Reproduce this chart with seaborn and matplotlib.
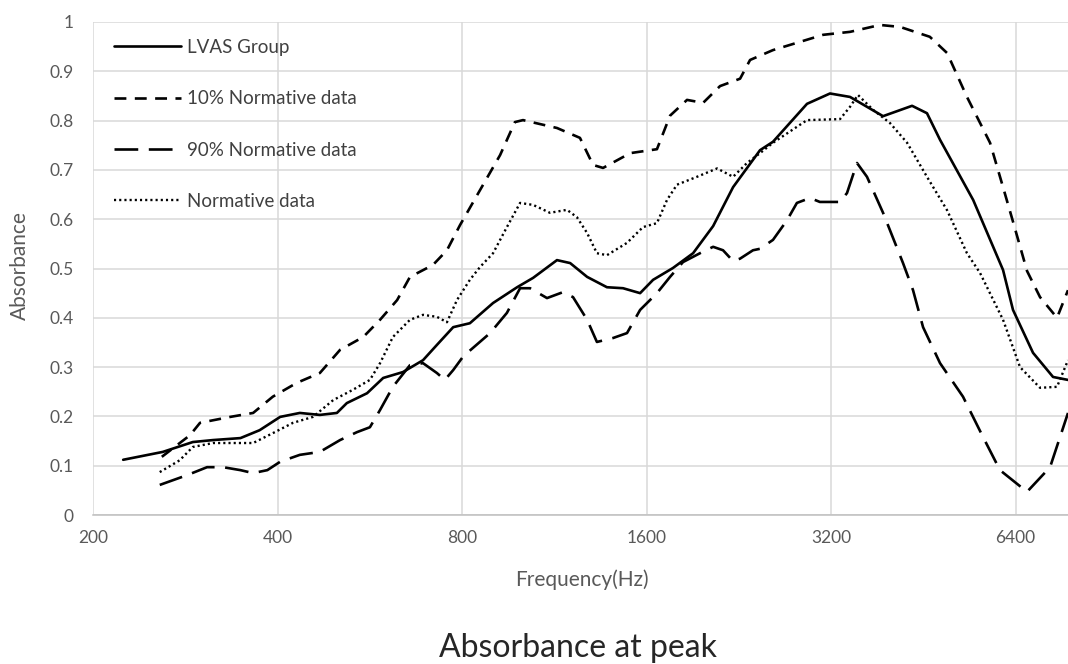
import matplotlib
matplotlib.use("Agg")
import matplotlib.pyplot as plt
import seaborn as sns
import numpy as np

# ---- data ----
lvas_freq = [224, 260, 291, 314, 348, 374, 404, 435, 469, 500, 519, 560, 595, 641, 691, 728,
             774, 824, 899, 984, 1045, 1143, 1201, 1280, 1379, 1465, 1562, 1640, 1767, 1906,
             2055, 2215, 2451, 2573, 2924, 3188, 3437, 3891, 4339, 4589, 4820, 5459, 6107,
             6340, 6835, 7369, 7795]
lvas_abs = [0.112, 0.128, 0.148, 0.152, 0.156, 0.172, 0.199, 0.207, 0.203, 0.207, 0.227, 0.247,
            0.278, 0.290, 0.314, 0.345, 0.381, 0.389, 0.430, 0.462, 0.481, 0.517, 0.511, 0.483,
            0.462, 0.460, 0.450, 0.477, 0.501, 0.531, 0.586, 0.665, 0.740, 0.757, 0.834, 0.855,
            0.848, 0.809, 0.830, 0.815, 0.761, 0.639, 0.497, 0.416, 0.329, 0.280, 0.274]

p10_freq = [259, 288, 299, 335, 365, 393, 430, 469, 506, 552, 588, 627, 658, 717, 756, 794,
            856, 923, 976, 1006, 1143, 1246, 1309, 1359, 1505, 1664, 1748, 1863, 1979, 2109,
            2274, 2361, 2573, 3106, 3437, 3847, 4149, 4638, 4950, 5333, 5816, 6107, 6340,
            6683, 7017, 7480, 7795]
p10_abs = [0.118, 0.162, 0.187, 0.199, 0.207, 0.240, 0.268, 0.288, 0.335, 0.361, 0.396, 0.436,
           0.483, 0.507, 0.537, 0.588, 0.659, 0.730, 0.797, 0.801, 0.785, 0.765, 0.710, 0.704,
           0.734, 0.742, 0.810, 0.842, 0.836, 0.870, 0.885, 0.923, 0.943, 0.974, 0.980, 0.994,
           0.990, 0.970, 0.937, 0.848, 0.755, 0.665, 0.595, 0.495, 0.442, 0.400, 0.456]

p90_freq = [257, 285, 307, 326, 348, 365, 385, 404, 435, 469, 506, 539, 566, 588, 617, 658,
            691, 728, 750, 774, 804, 889, 947, 995, 1033, 1101, 1169, 1214, 1280, 1328, 1411,
            1487, 1562, 1664, 1748, 1835, 1956, 2055, 2133, 2215, 2274, 2387, 2451, 2573,
            2713, 2815, 2957, 3069, 3310, 3398, 3528, 3663, 3891, 4194, 4355, 4522, 4820,
            5254, 5666, 6037, 6683, 7287, 7795]
p90_abs = [0.061, 0.081, 0.097, 0.097, 0.091, 0.085, 0.091, 0.108, 0.122, 0.128, 0.152, 0.168,
           0.178, 0.213, 0.260, 0.304, 0.308, 0.288, 0.274, 0.294, 0.322, 0.369, 0.410, 0.460,
           0.460, 0.440, 0.452, 0.442, 0.396, 0.351, 0.359, 0.369, 0.416, 0.450, 0.483, 0.513,
           0.531, 0.544, 0.537, 0.515, 0.520, 0.537, 0.540, 0.558, 0.598, 0.633, 0.643, 0.635,
           0.635, 0.653, 0.714, 0.686, 0.613, 0.511, 0.456, 0.381, 0.308, 0.240, 0.158, 0.091,
           0.047, 0.097, 0.207]

norm_freq = [257, 277, 291, 314, 348, 365, 393, 424, 457, 493, 531, 566, 588, 617, 658, 691,
             728, 756, 785, 824, 856, 899, 947, 995, 1045, 1113, 1187, 1232, 1280, 1328, 1379,
             1487, 1579, 1664, 1728, 1794, 1934, 2086, 2215, 2334, 2451, 2573, 2924, 3310,
             3437, 3541, 3747, 3994, 4259, 4589, 4950, 5333, 5601, 6107, 6509, 7017, 7480, 7795]
norm_abs = [0.087, 0.111, 0.138, 0.146, 0.146, 0.146, 0.166, 0.187, 0.199, 0.233, 0.254, 0.274,
            0.308, 0.361, 0.396, 0.406, 0.402, 0.391, 0.436, 0.477, 0.503, 0.531, 0.584, 0.633,
            0.629, 0.613, 0.619, 0.604, 0.572, 0.531, 0.527, 0.552, 0.584, 0.592, 0.639, 0.670,
            0.686, 0.703, 0.686, 0.714, 0.734, 0.755, 0.801, 0.803, 0.828, 0.852, 0.822, 0.795,
            0.755, 0.686, 0.618, 0.531, 0.491, 0.396, 0.300, 0.258, 0.260, 0.314]

x_ticks = [200, 400, 800, 1600, 3200, 6400]
y_ticks = [0, 0.1, 0.2, 0.3, 0.4, 0.5, 0.6, 0.7, 0.8, 0.9, 1]
y_tick_labels = ["0", "0.1", "0.2", "0.3", "0.4", "0.5", "0.6", "0.7", "0.8", "0.9", "1"]

# ---- style ----
sns.set_theme(style="whitegrid")
plt.rcParams['font.family'] = ['Lato', 'DejaVu Sans']

W, H = 1068, 664
fig = plt.figure(figsize=(W / 100, H / 100), dpi=100)
ax = fig.add_axes([93 / W, 1 - 515 / H, 1 - 93 / W, (515 - 22) / H])

lw = 1.9
sns.lineplot(x=lvas_freq, y=lvas_abs, ax=ax, color="black", linewidth=lw,
             label="LVAS Group", linestyle="-")
sns.lineplot(x=p10_freq, y=p10_abs, ax=ax, color="black", linewidth=lw,
             label="10% Normative data", linestyle=(0, (4.5, 3.2)))
sns.lineplot(x=p90_freq, y=p90_abs, ax=ax, color="black", linewidth=lw,
             label="90% Normative data", linestyle=(0, (9, 4)))
sns.lineplot(x=norm_freq, y=norm_abs, ax=ax, color="black", linewidth=1.7,
             label="Normative data", linestyle=(0, (0.9, 1.3)))

ax.set_xscale("log", base=2)
ax.set_xlim(200, 7795)
ax.set_ylim(0, 1)
ax.set_xticks(x_ticks)
ax.set_xticklabels([str(t) for t in x_ticks])
ax.minorticks_off()
ax.set_yticks(y_ticks)
ax.set_yticklabels(y_tick_labels)

ax.grid(True, color="#d9d9d9", linewidth=1.1)
ax.set_facecolor("white")
for s in ["top", "right", "left"]:
    ax.spines[s].set_visible(False)
ax.spines["bottom"].set_color("#bfbfbf")
ax.spines["bottom"].set_linewidth(1.1)

ax.tick_params(axis="both", length=0, labelsize=12.5, labelcolor="#595959")
ax.tick_params(axis="x", pad=11)
ax.tick_params(axis="y", pad=14)

ax.set_xlabel("")
ax.set_ylabel("")
fig.text(582 / W, 1 - 580 / H, "Frequency(Hz)", ha="center", va="center",
         fontsize=15, color="#595959")
fig.text(20 / W, 1 - 266 / H, "Absorbance", ha="center", va="center",
         rotation=90, fontsize=15, color="#595959")
fig.text(578 / W, 1 - 648 / H, "Absorbance at peak", ha="center", va="center",
         fontsize=23, color="#262626")

leg = ax.legend(loc="upper left", bbox_to_anchor=(97 / W, 1 - 22 / H),
                bbox_transform=fig.transFigure, frameon=False, fontsize=13.5,
                handlelength=3.6, handletextpad=0.3, labelspacing=1.83)
for t in leg.get_texts():
    t.set_color("#404040")

fig.savefig("out.png", dpi=100)
